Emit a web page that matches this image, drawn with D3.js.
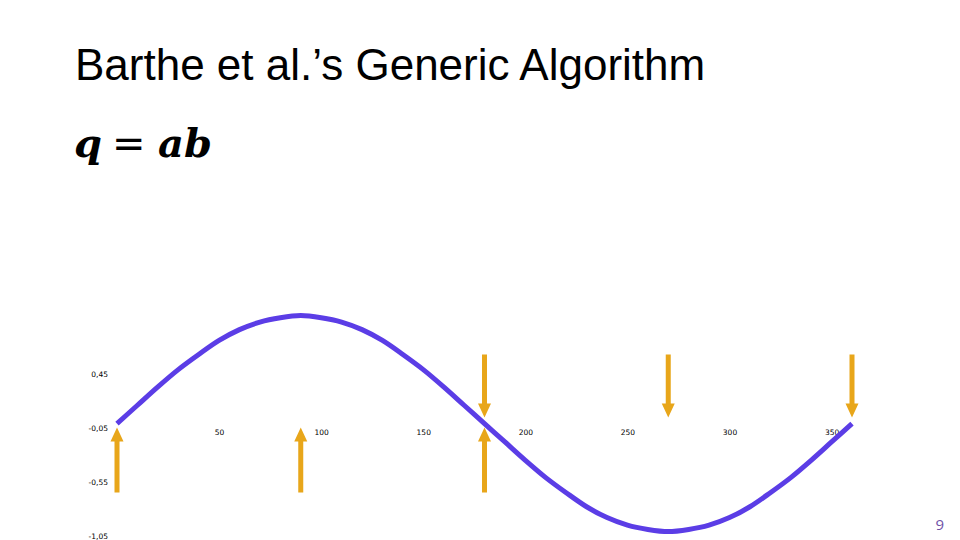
<!DOCTYPE html>
<html>
<head>
<meta charset="utf-8">
<script src="https://cdn.jsdelivr.net/npm/d3@7"></script>
<style>
  html, body { margin: 0; padding: 0; background: #fff; }
  svg { display: block; }
</style>
</head>
<body>
<div id="chart"></div>
<script>
  // angle (degrees) and value of the curve
  const angles = [0, 10, 20, 30, 40, 50, 60, 70, 80, 90, 100, 110, 120, 130, 140, 150, 160, 170, 180,
                  190, 200, 210, 220, 230, 240, 250, 260, 270, 280, 290, 300, 310, 320, 330, 340, 350, 360];
  const values = [0, 0.17, 0.34, 0.5, 0.64, 0.77, 0.87, 0.94, 0.98, 1, 0.98, 0.94, 0.87, 0.77, 0.64, 0.5, 0.34, 0.17, 0,
                  -0.17, -0.34, -0.5, -0.64, -0.77, -0.87, -0.94, -0.98, -1, -0.98, -0.94, -0.87, -0.77, -0.64, -0.5, -0.34, -0.17, 0];
  const xTicks = [50, 100, 150, 200, 250, 300, 350];
  const yTicks = [0.45, -0.05, -0.55, -1.05];
  const upArrows = [0, 90, 180];
  const downArrows = [180, 270, 360];

  const width = 960, height = 540;
  const purple = '#5b3de6', orange = '#e8a61a';

  const svg = d3.select('#chart').append('svg')
      .attr('width', width)
      .attr('height', height);

  // title and formula
  svg.append('text')
      .attr('x', 75).attr('y', 80)
      .attr('font-family', 'Liberation Sans, Arial, sans-serif')
      .attr('font-size', 44)
      .attr('fill', '#000')
      .text('Barthe et al.’s Generic Algorithm');

  const formula = svg.append('g')
      .attr('font-family', 'DejaVu Serif, serif')
      .attr('font-size', 40)
      .attr('fill', '#000');
  formula.append('text').attr('x', 74).attr('y', 157)
      .attr('font-weight', 'bold').attr('font-style', 'italic').text('q');
  formula.append('text').attr('x', 112).attr('y', 157)
      .attr('font-family', 'DejaVu Sans, sans-serif').text('=');
  formula.append('text').attr('x', 158).attr('y', 157)
      .attr('font-weight', 'bold').attr('font-style', 'italic').text('ab');

  const x = d3.scaleLinear().domain([0, 360]).range([117, 852]);
  const y = d3.scaleLinear().domain([-1.05, 0.45]).range([537, 375]);

  const fmt = d => d3.format('.2f')(d).replace('.', ',').replace('−', '-');

  // y axis labels only
  const yAxis = d3.axisLeft(y).tickValues(yTicks).tickSize(0).tickPadding(0).tickFormat(fmt);
  svg.append('g')
      .attr('transform', 'translate(108,-1)')
      .call(yAxis)
      .call(g => g.select('.domain').remove())
      .call(g => g.selectAll('text')
          .attr('font-family', 'DejaVu Sans, Verdana, sans-serif')
          .attr('font-size', 7.5)
          .attr('fill', '#000'));

  // x axis labels only, sitting on the zero line
  const xAxis = d3.axisBottom(x).tickValues(xTicks).tickSize(0).tickPadding(6).tickFormat(d3.format('d'));
  svg.append('g')
      .attr('transform', `translate(0,${y(0)})`)
      .call(xAxis)
      .call(g => g.select('.domain').remove())
      .call(g => g.selectAll('text')
          .attr('font-family', 'DejaVu Sans, Verdana, sans-serif')
          .attr('font-size', 7.5)
          .attr('fill', '#000'));

  // the curve
  const points = angles.map((a, i) => ({angle: a, value: values[i]}));
  const line = d3.line()
      .x(d => x(d.angle))
      .y(d => y(d.value))
      .curve(d3.curveMonotoneX);

  svg.append('path')
      .datum(points)
      .attr('d', line)
      .attr('fill', 'none')
      .attr('stroke', purple)
      .attr('stroke-width', 5);

  // arrows
  const headW = 13, headH = 14, shaftW = 5;
  const arrowPath = (cx, tipY, len, dir) => {
    // dir = -1 points up, +1 points down
    const baseY = tipY - dir * headH;
    const tailY = tipY - dir * len;
    return `M${cx - shaftW / 2},${tailY}L${cx - shaftW / 2},${baseY}L${cx - headW / 2},${baseY}` +
           `L${cx},${tipY}L${cx + headW / 2},${baseY}L${cx + shaftW / 2},${baseY}L${cx + shaftW / 2},${tailY}Z`;
  };

  svg.append('g').selectAll('path.up')
      .data(upArrows)
      .join('path')
      .attr('class', 'up')
      .attr('d', d => arrowPath(x(d), y(0) + 4, 65, -1))
      .attr('fill', orange);

  svg.append('g').selectAll('path.down')
      .data(downArrows)
      .join('path')
      .attr('class', 'down')
      .attr('d', d => arrowPath(x(d), y(0) - 6, 63, 1))
      .attr('fill', orange);

  // page number
  svg.append('text')
      .attr('x', 944).attr('y', 530)
      .attr('text-anchor', 'end')
      .attr('font-family', 'Open Sans, sans-serif')
      .attr('font-size', 15)
      .attr('fill', '#6f52a8')
      .text('9');
</script>
</body>
</html>
